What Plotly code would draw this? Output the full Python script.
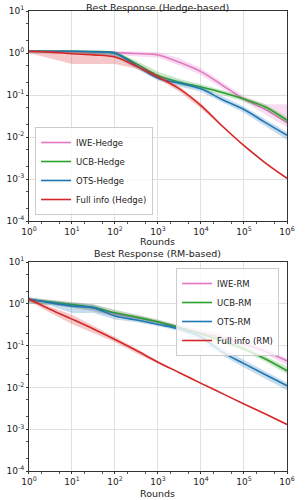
import plotly.graph_objects as go
from plotly.subplots import make_subplots

rounds = [1, 3.16, 10, 31.6, 100, 316, 1000, 3162, 10000, 31623, 100000, 316228, 1000000]

# Hedge-based panel
iwe_hedge = [1.1, 1.1, 1.08, 1.05, 1.02, 0.97, 0.9, 0.6, 0.36, 0.17, 0.08, 0.045, 0.022]
iwe_hedge_lo = [1.0, 1.0, 1.0, 0.95, 0.9, 0.85, 0.78, 0.5, 0.3, 0.14, 0.07, 0.035, 0.017]
iwe_hedge_hi = [1.15, 1.15, 1.15, 1.12, 1.1, 1.08, 1.05, 0.75, 0.44, 0.2, 0.095, 0.06, 0.06]
ucb_hedge = [1.1, 1.1, 1.1, 1.08, 1.0, 0.55, 0.29, 0.2, 0.155, 0.115, 0.08, 0.052, 0.025]
ucb_hedge_lo = [1.0, 1.0, 1.0, 0.95, 0.85, 0.45, 0.25, 0.17, 0.135, 0.1, 0.07, 0.045, 0.021]
ucb_hedge_hi = [1.15, 1.15, 1.15, 1.15, 1.1, 0.65, 0.36, 0.24, 0.18, 0.13, 0.09, 0.06, 0.03]
ots_hedge = [1.1, 1.1, 1.1, 1.07, 0.98, 0.5, 0.25, 0.19, 0.14, 0.077, 0.045, 0.022, 0.011]
ots_hedge_lo = [1.0, 1.0, 1.0, 0.92, 0.8, 0.42, 0.22, 0.16, 0.12, 0.066, 0.038, 0.018, 0.0085]
ots_hedge_hi = [1.15, 1.15, 1.15, 1.13, 1.08, 0.58, 0.29, 0.22, 0.16, 0.09, 0.053, 0.026, 0.013]
full_hedge = [1.1, 1.05, 0.96, 0.9, 0.8, 0.48, 0.27, 0.14, 0.056, 0.018, 0.0062, 0.0024, 0.00104]
full_hedge_lo = [1.0, 0.75, 0.55, 0.55, 0.55, 0.42, 0.24, 0.12, 0.048, 0.017, 0.006, 0.0023, 0.001]
full_hedge_hi = [1.15, 1.12, 1.05, 1.0, 0.9, 0.56, 0.31, 0.16, 0.064, 0.019, 0.0065, 0.0025, 0.00108]

# RM-based panel
iwe_rm = [1.25, 1.1, 0.95, 0.8, 0.58, 0.47, 0.37, 0.27, 0.2, 0.155, 0.11, 0.072, 0.043]
iwe_rm_lo = [1.05, 0.95, 0.8, 0.65, 0.48, 0.4, 0.33, 0.24, 0.18, 0.135, 0.095, 0.062, 0.034]
iwe_rm_hi = [1.4, 1.25, 1.1, 0.95, 0.7, 0.55, 0.42, 0.31, 0.24, 0.19, 0.13, 0.085, 0.05]
ucb_rm = [1.25, 1.1, 0.96, 0.82, 0.61, 0.48, 0.37, 0.27, 0.19, 0.13, 0.083, 0.048, 0.025]
ucb_rm_lo = [1.0, 0.95, 0.82, 0.68, 0.5, 0.4, 0.33, 0.24, 0.17, 0.115, 0.073, 0.041, 0.021]
ucb_rm_hi = [1.4, 1.25, 1.1, 0.98, 0.72, 0.56, 0.42, 0.3, 0.21, 0.145, 0.095, 0.056, 0.031]
ots_rm = [1.3, 1.05, 0.88, 0.8, 0.51, 0.41, 0.32, 0.25, 0.16, 0.07, 0.037, 0.02, 0.011]
ots_rm_lo = [1.1, 0.9, 0.6, 0.6, 0.42, 0.36, 0.29, 0.22, 0.13, 0.058, 0.03, 0.016, 0.0085]
ots_rm_hi = [1.45, 1.2, 1.05, 0.95, 0.6, 0.47, 0.36, 0.28, 0.19, 0.085, 0.045, 0.024, 0.013]
full_rm = [1.3, 0.73, 0.43, 0.25, 0.14, 0.076, 0.04, 0.0225, 0.0125, 0.0071, 0.004, 0.0023, 0.0013]
full_rm_lo = [1.15, 0.6, 0.33, 0.2, 0.12, 0.065, 0.038, 0.0215, 0.012, 0.0069, 0.0039, 0.00225, 0.00127]
full_rm_hi = [1.4, 0.85, 0.55, 0.3, 0.16, 0.085, 0.043, 0.0235, 0.013, 0.0073, 0.0041, 0.00235, 0.00133]

x_tickvals = [1, 10, 100, 1000, 10000, 100000, 1000000]
x_ticktext = ["10<sup>0</sup>", "10<sup>1</sup>", "10<sup>2</sup>", "10<sup>3</sup>",
              "10<sup>4</sup>", "10<sup>5</sup>", "10<sup>6</sup>"]
y_tickvals = [1e-4, 1e-3, 1e-2, 1e-1, 1, 10]
y_ticktext = ["10<sup>-4</sup>", "10<sup>-3</sup>", "10<sup>-2</sup>", "10<sup>-1</sup>",
              "10<sup>0</sup>", "10<sup>1</sup>"]

colors = {"IWE": "#e377c2", "UCB": "#2ca02c", "OTS": "#1f77b4", "Full": "#d62728"}
fills = {"IWE": "rgba(227,119,194,0.25)", "UCB": "rgba(44,160,44,0.25)",
         "OTS": "rgba(31,119,180,0.25)", "Full": "rgba(214,39,40,0.25)"}

fig = make_subplots(rows=2, cols=1)

def add_series(row, key, name, mid, lo, hi, legend):
    fig.add_trace(go.Scatter(x=rounds, y=lo, mode="lines", line=dict(width=0),
                             showlegend=False, hoverinfo="skip"), row=row, col=1)
    fig.add_trace(go.Scatter(x=rounds, y=hi, mode="lines", line=dict(width=0),
                             fill="tonexty", fillcolor=fills[key],
                             showlegend=False, hoverinfo="skip"), row=row, col=1)
    fig.add_trace(go.Scatter(x=rounds, y=mid, mode="lines", name=name,
                             line=dict(color=colors[key], width=1.6, shape="spline"),
                             legend=legend), row=row, col=1)

add_series(1, "IWE", "IWE-Hedge", iwe_hedge, iwe_hedge_lo, iwe_hedge_hi, "legend")
add_series(1, "UCB", "UCB-Hedge", ucb_hedge, ucb_hedge_lo, ucb_hedge_hi, "legend")
add_series(1, "OTS", "OTS-Hedge", ots_hedge, ots_hedge_lo, ots_hedge_hi, "legend")
add_series(1, "Full", "Full info (Hedge)", full_hedge, full_hedge_lo, full_hedge_hi, "legend")
add_series(2, "IWE", "IWE-RM", iwe_rm, iwe_rm_lo, iwe_rm_hi, "legend2")
add_series(2, "UCB", "UCB-RM", ucb_rm, ucb_rm_lo, ucb_rm_hi, "legend2")
add_series(2, "OTS", "OTS-RM", ots_rm, ots_rm_lo, ots_rm_hi, "legend2")
add_series(2, "Full", "Full info (RM)", full_rm, full_rm_lo, full_rm_hi, "legend2")

axis_common = dict(showline=True, linecolor="#333", linewidth=1, mirror=True,
                   showgrid=True, gridcolor="#e0e0e0", gridwidth=1,
                   ticks="outside", ticklen=2, tickcolor="#333", automargin=False,
                   minor=dict(ticks="outside", ticklen=1.5, tickcolor="#555", showgrid=False),
                   tickfont=dict(size=9, color="#222"), zeroline=False)

for i, (dom_y) in enumerate([[0.558, 0.978], [0.058, 0.476]]):
    xa = "xaxis" if i == 0 else "xaxis2"
    ya = "yaxis" if i == 0 else "yaxis2"
    fig.update_layout(**{
        xa: dict(type="log", range=[0, 6], domain=[0.095, 0.941],
                 tickvals=x_tickvals, ticktext=x_ticktext, **axis_common),
        ya: dict(type="log", range=[-4, 1], domain=dom_y,
                 tickvals=y_tickvals, ticktext=y_ticktext, **axis_common),
    })

fig.update_layout(
    width=305, height=500,
    margin=dict(l=0, r=0, t=0, b=0),
    paper_bgcolor="white", plot_bgcolor="white",
    font=dict(family="DejaVu Sans", size=9, color="#222"),
    annotations=[
        dict(text="Best Response (Hedge-based)", x=0.518, y=1.0, xref="paper", yref="paper",
             xanchor="center", yanchor="top", showarrow=False, font=dict(size=9.5)),
        dict(text="Best Response (RM-based)", x=0.518, y=0.478, xref="paper", yref="paper",
             xanchor="center", yanchor="bottom", showarrow=False, font=dict(size=9.5)),
        dict(text="Rounds", x=0.518, y=0.503, xref="paper", yref="paper",
             xanchor="center", yanchor="bottom", showarrow=False, font=dict(size=9.5)),
        dict(text="Rounds", x=0.518, y=-0.002, xref="paper", yref="paper",
             xanchor="center", yanchor="bottom", showarrow=False, font=dict(size=9.5)),
    ],
    legend=dict(x=0.115, y=0.57, xanchor="left", yanchor="bottom", traceorder="normal",
                bgcolor="rgba(255,255,255,0.8)", bordercolor="#ccc", borderwidth=1,
                font=dict(size=8.5), tracegroupgap=0, itemwidth=30),
    legend2=dict(x=0.915, y=0.464, xanchor="right", yanchor="top", traceorder="normal",
                 bgcolor="rgba(255,255,255,0.8)", bordercolor="#ccc", borderwidth=1,
                 font=dict(size=8.5), tracegroupgap=0, itemwidth=30),
)

fig.write_html("out.html", config={"displayModeBar": False},
               post_script="document.body.style.margin='0px';")
